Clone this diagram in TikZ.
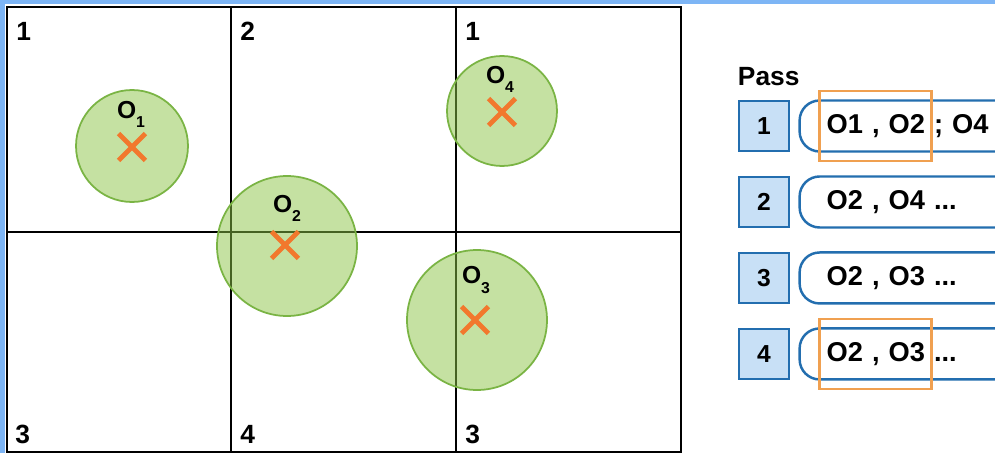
\documentclass[tikz,border=0pt]{standalone}
\usepackage{fontspec}
\setmainfont{Liberation Sans}
\usetikzlibrary{positioning,shapes.misc}

\definecolor{frameblue}{RGB}{125,181,245}
\definecolor{objgreen}{RGB}{140,196,70}
\definecolor{objedge}{RGB}{122,180,68}
\definecolor{xorange}{RGB}{242,120,45}
\definecolor{boxblue}{RGB}{200,224,246}
\definecolor{lineblue}{RGB}{35,110,175}
\definecolor{hiorange}{RGB}{240,160,80}

\begin{document}
\begin{tikzpicture}[
		x = 0.02cm, y = -0.02cm, % one unit = one pixel, y downwards
		node distance = 1.52cm, % pitch of the pass rows
		font=\bfseries
		]
		
		\tikzstyle{cellnum}=[
		anchor = base west,
		inner sep = 0pt,
		font = \fontsize{15}{15}\selectfont\bfseries
		]
		\tikzstyle{obj}=[
		circle,
		draw = objedge,
		line width = 1pt,
		fill = objgreen,
		fill opacity = 0.5,
		inner sep = 0pt
		]
		\tikzstyle{xmark}=[
		cross out,
		draw = xorange,
		line width = 2.8pt,
		minimum size = 0.44cm,
		inner sep = 0pt
		]
		\tikzstyle{objname}=[
		inner sep = 0pt,
		font = \fontsize{14}{14}\selectfont\bfseries
		]
		\tikzstyle{passnum}=[
		draw = lineblue,
		line width = 1.6pt,
		fill = boxblue,
		minimum size = 1cm,
		inner sep = 0pt,
		font = \fontsize{14}{14}\selectfont\bfseries
		]
		\tikzstyle{pill}=[
		draw = lineblue,
		line width = 1.4pt,
		fill = white,
		rounded corners = 0.4cm,
		minimum height = 1.02cm,
		text width = 3.7cm,
		inner xsep = 0.54cm,
		align = left,
		font = \fontsize{15.5}{15.5}\selectfont\bfseries
		]
		\tikzstyle{hilite}=[
		draw = hiorange,
		line width = 1.4pt,
		minimum width = 2.24cm,
		minimum height = 1.4cm
		]
		
		\useasboundingbox (0,0) rectangle (995,453);
		\clip (0,0) rectangle (995,453);
		\fill[frameblue] (0,0) rectangle (995,453);
		\fill[white] (5,4) rectangle (995,453);
		
		% grid of cells
		\draw[line width=1.6pt] (7,7) rectangle (681,452);
		\draw[line width=1.3pt] (231,7) -- (231,452) (456,7) -- (456,452)
		(7,232) -- (681,232);
		
		\node[cellnum] (c11) at (16,40) {1};
		\node[cellnum] (c12) at (240,40) {2};
		\node[cellnum] (c13) at (465,40) {1};
		\node[cellnum] (c21) at (15,443) {3};
		\node[cellnum] (c22) at (240,443) {4};
		\node[cellnum] (c23) at (465,443) {3};
		
		% objects
		\node[obj, minimum size=2.24cm] (o1) at (132,146) {};
		\node[obj, minimum size=2.8cm] (o2) at (287,246) {};
		\node[obj, minimum size=2.8cm] (o3) at (477,320) {};
		\node[obj, minimum size=2.2cm] (o4) at (502,111) {};
		
		\node[xmark] (x1) at (132,147) {};
		\node[xmark] (x2) at (285,245) {};
		\node[xmark] (x3) at (475,320) {};
		\node[xmark] (x4) at (502,112) {};
		
		\node[objname] (n1) at (131,114) {O\raisebox{-0.7ex}{\fontsize{9}{9}\selectfont 1}};
		\node[objname] (n2) at (287,208) {O\raisebox{-0.7ex}{\fontsize{9}{9}\selectfont 2}};
		\node[objname] (n3) at (476,280) {O\raisebox{-0.7ex}{\fontsize{9}{9}\selectfont 3}};
		\node[objname] (n4) at (500,79) {O\raisebox{-0.7ex}{\fontsize{9}{9}\selectfont 4}};
		
		% passes
		\node[passnum] (num1) at (764,126) {1};
		\node[passnum] (num2) [below of=num1] {2};
		\node[passnum] (num3) [below of=num2] {3};
		\node[passnum] (num4) [below of=num3] {4};
		
		\node[cellnum] (pass) at ([yshift=0.29cm]num1.north west) {Pass};
		
		\node[pill, right=0.16cm of num1] (pill1) {O1 , O2 ; O4};
		\node[pill, right=0.16cm of num2] (pill2) {O2 , O4 ...};
		\node[pill, right=0.16cm of num3] (pill3) {O2 , O3 ...};
		\node[pill, right=0.16cm of num4] (pill4) {O2 , O3 ...};
		
		\node[hilite] (h1) at ([xshift=1.54cm]pill1.west) {};
		\node[hilite] (h4) at ([xshift=1.54cm]pill4.west) {};
	\end{tikzpicture}
\end{document}
